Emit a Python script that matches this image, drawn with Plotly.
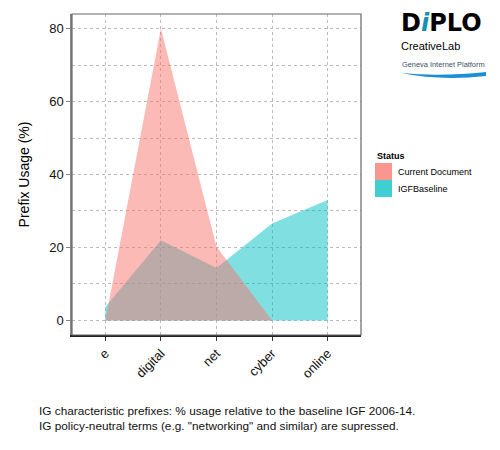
import plotly.graph_objects as go

prefixes = ['e', 'digital', 'net', 'cyber', 'online']
current_doc = [0, 80, 20.2, 0, 0]
igf_baseline = [3.7, 22.0, 14.4, 26.6, 33.0]

status_names = ['Current Document', 'IGFBaseline']
status_key = ['#F8968F', '#3FCFD2']
status_fill = ['rgba(248,118,109,0.5)', 'rgba(0,191,196,0.5)']

caption = ('IG characteristic prefixes: % usage relative to the baseline IGF 2006-14.<br>'
           'IG policy-neutral terms (e.g. "networking" and similar) are supressed.')

FONT = 'Liberation Sans, Arial, sans-serif'

# the page body adds an 8px margin, so the figure is shrunk by that amount
PX0, PY0, PW, PH = 72, 14, 289, 321   # plot panel in page pixels


def px(x):
    return (x - PX0) / PW


def py(y):
    return (PY0 + PH - y) / PH


fig = go.Figure()
# baseline under, current document on top (overlap goes brownish)
fig.add_trace(go.Scatter(
    x=prefixes, y=igf_baseline, mode='lines', fill='tozeroy',
    fillcolor=status_fill[1], line=dict(width=0), name=status_names[1],
    showlegend=False, hoverinfo='x+y',
))
fig.add_trace(go.Scatter(
    x=prefixes, y=current_doc, mode='lines', fill='tozeroy',
    fillcolor=status_fill[0], line=dict(width=0), name=status_names[0],
    showlegend=False, hoverinfo='x+y',
))

fig.update_layout(
    width=492, height=442,
    margin=dict(l=PX0 - 8, r=139, t=PY0 - 8, b=115),
    paper_bgcolor='white', plot_bgcolor='white',
    font=dict(family=FONT, color='black'),
    showlegend=False,
)
fig.update_xaxes(
    type='category', range=[-0.6, 4.6], tickangle=-45,
    tickfont=dict(size=13, color='#111'),
    showgrid=True, gridcolor='#bbbbbb', griddash='dot', gridwidth=1,
    showline=True, linecolor='#222', linewidth=1.5, mirror=False,
    ticks='outside', ticklen=4, tickcolor='#333', zeroline=False,
)
fig.update_yaxes(
    range=[-4, 84], tickvals=[0, 20, 40, 60, 80],
    tickfont=dict(size=13, color='#111'),
    title=dict(text='Prefix Usage (%)', font=dict(size=14), standoff=16),
    showgrid=True, gridcolor='#bbbbbb', griddash='dot', gridwidth=1,
    minor=dict(tickvals=[10, 30, 50, 70], showgrid=True, gridcolor='#bbbbbb', griddash='dot'),
    showline=True, linecolor='#888', linewidth=1.5,
    ticks='outside', ticklen=4, tickcolor='#888', zeroline=False,
)

# panel border (top / right)
fig.add_shape(type='rect', xref='paper', yref='paper', x0=0, x1=1, y0=0, y1=1,
              line=dict(color='#666', width=1.2), fillcolor='rgba(0,0,0,0)', layer='above')

# manual legend
fig.add_annotation(text='<b>Status</b>', xref='paper', yref='paper',
                   x=px(375), y=py(156), xanchor='left', yanchor='middle',
                   showarrow=False, font=dict(size=9))
for i, (nm, col) in enumerate(zip(status_names, status_key)):
    top = 163 + 17 * i
    fig.add_shape(type='rect', xref='paper', yref='paper',
                  x0=px(375), x1=px(392), y0=py(top + 17), y1=py(top),
                  line=dict(width=0), fillcolor=col)
    fig.add_annotation(text=nm, xref='paper', yref='paper',
                       x=px(396), y=py(top + 8.5),
                       xanchor='left', yanchor='middle', showarrow=False,
                       font=dict(size=9))

# Diplo logo
fig.add_annotation(text="<b>D<span style='color:#1391b5'><i>i</i></span>PLO</b>",
                   xref='paper', yref='paper', x=px(399), y=py(23),
                   xanchor='left', yanchor='middle', showarrow=False,
                   font=dict(size=24, family='DejaVu Sans, sans-serif', color='black'))
fig.add_annotation(text='CreativeLab', xref='paper', yref='paper',
                   x=px(399), y=py(46), xanchor='left', yanchor='middle',
                   showarrow=False, font=dict(size=11))
fig.add_annotation(text='Geneva Internet Platform', xref='paper', yref='paper',
                   x=px(400), y=py(64), xanchor='left', yanchor='middle',
                   showarrow=False, font=dict(size=7.4, family='Liberation Sans Narrow, Liberation Sans, sans-serif',
                                              color='#3c4f66'))
fig.add_shape(type='path', xref='paper', yref='paper',
              path=('M {0},{1} Q {2},{3} {4},{5} L {4},{6} Q {2},{7} {0},{1} Z').format(
                  px(401), py(73), px(440), py(77), px(486), py(72), py(76), py(81)),
              line=dict(width=0), fillcolor='#1a8fd6')

fig.add_annotation(text=caption, xref='paper', yref='paper',
                   x=px(37), y=py(418), xanchor='left', yanchor='middle',
                   align='left', showarrow=False, font=dict(size=11.8, color='#111'))

fig.write_html('out.html')
